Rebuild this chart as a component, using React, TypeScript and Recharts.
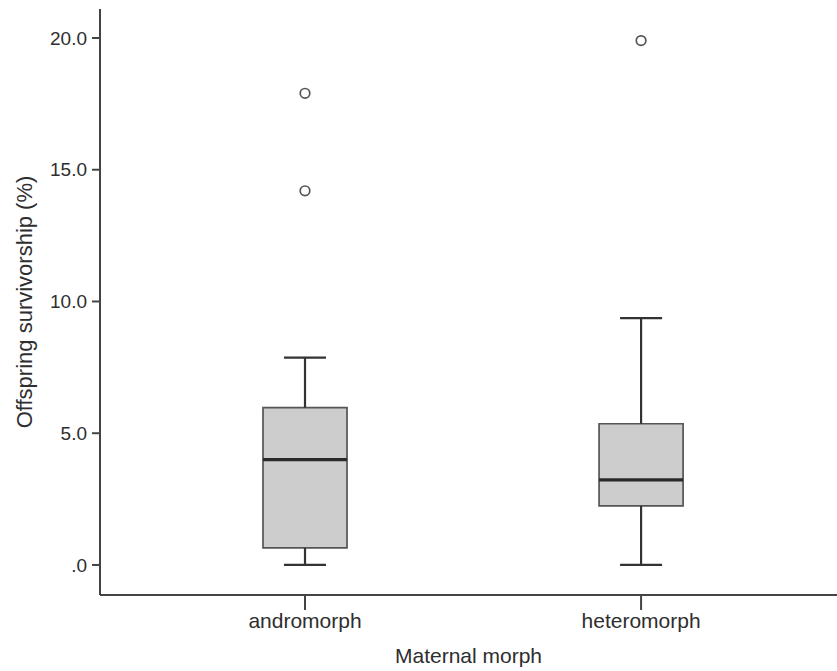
import {
  ComposedChart,
  ReferenceArea,
  ReferenceLine,
  Scatter,
  XAxis,
  YAxis,
} from "recharts";

// categories on a numeric x axis (1, 2)
const morphs = ["andromorph", "heteromorph"];
const morphPos = [1, 2];

// five-number summaries
const whiskerLow = [0, 0];
const quartile1 = [0.65, 2.24];
const medians = [4.0, 3.23];
const quartile3 = [5.97, 5.36];
const whiskerHigh = [7.87, 9.37];

// outliers
const outlierPos = [1, 1, 2];
const outlierVals = [17.9, 14.2, 19.9];

const yTicks = [0, 5, 10, 15, 20];

const BOX_HALF = 0.125;
const CAP_HALF = 0.0625;
const FONT = "'Liberation Sans', Arial, Helvetica, sans-serif";
const TEXT = "#2e2e2e";

const outliers = outlierPos.map((x, i) => ({ x, y: outlierVals[i] }));

function Outlier(props: any) {
  const { cx, cy } = props;
  return <circle cx={cx} cy={cy} r={4.8} fill="#ffffff" stroke="#555555" strokeWidth={1.7} />;
}

export default function App() {
  return (
    <div style={{ position: "absolute", left: 0, top: 0, background: "#fff" }}>
      <ComposedChart
        width={837}
        height={671}
        margin={{ top: 9, right: 0, bottom: 0, left: 0 }}
        style={{ fontFamily: FONT }}
      >
        <XAxis
          type="number"
          dataKey="x"
          domain={[0.39, 2.583]}
          ticks={morphPos}
          tickFormatter={(v) => morphs[morphPos.indexOf(v)] ?? ""}
          height={76}
          tickSize={15}
          tickMargin={3}
          axisLine={{ stroke: "#444444", strokeWidth: 2 }}
          tickLine={{ stroke: "#444444", strokeWidth: 2 }}
          tick={{ fill: TEXT, fontSize: 21, fontFamily: FONT }}
          allowDataOverflow
          label={{
            value: "Maternal morph",
            position: "insideBottom",
            offset: 8,
            fill: TEXT,
            fontSize: 21,
            fontFamily: FONT,
          }}
        />
        <YAxis
          type="number"
          dataKey="y"
          domain={[-1.14, 21.1]}
          ticks={yTicks}
          tickFormatter={(v) => (v === 0 ? ".0" : Number(v).toFixed(1))}
          width={100}
          tickSize={8}
          tickMargin={5}
          axisLine={{ stroke: "#444444", strokeWidth: 2 }}
          tickLine={{ stroke: "#444444", strokeWidth: 2 }}
          tick={{ fill: TEXT, fontSize: 19, fontFamily: FONT }}
          allowDataOverflow
          label={{
            value: "Offspring survivorship (%)",
            angle: -90,
            position: "insideLeft",
            offset: 24,
            fill: TEXT,
            fontSize: 22,
            fontFamily: FONT,
            style: { textAnchor: "middle" },
          }}
        />
        {morphPos.map((x, i) => (
          <ReferenceLine
            key={`wl-${i}`}
            segment={[
              { x, y: whiskerLow[i] },
              { x, y: quartile1[i] },
            ]}
            stroke="#333333"
            strokeWidth={2.2}
          />
        ))}
        {morphPos.map((x, i) => (
          <ReferenceLine
            key={`wh-${i}`}
            segment={[
              { x, y: quartile3[i] },
              { x, y: whiskerHigh[i] },
            ]}
            stroke="#333333"
            strokeWidth={2.2}
          />
        ))}
        {morphPos.map((x, i) => (
          <ReferenceLine
            key={`cl-${i}`}
            segment={[
              { x: x - CAP_HALF, y: whiskerLow[i] },
              { x: x + CAP_HALF, y: whiskerLow[i] },
            ]}
            stroke="#333333"
            strokeWidth={2.2}
          />
        ))}
        {morphPos.map((x, i) => (
          <ReferenceLine
            key={`ch-${i}`}
            segment={[
              { x: x - CAP_HALF, y: whiskerHigh[i] },
              { x: x + CAP_HALF, y: whiskerHigh[i] },
            ]}
            stroke="#333333"
            strokeWidth={2.2}
          />
        ))}
        {morphPos.map((x, i) => (
          <ReferenceArea
            key={`box-${i}`}
            x1={x - BOX_HALF}
            x2={x + BOX_HALF}
            y1={quartile1[i]}
            y2={quartile3[i]}
            fill="#cdcdcd"
            fillOpacity={1}
            stroke="#555555"
            strokeWidth={1.7}
          />
        ))}
        {morphPos.map((x, i) => (
          <ReferenceLine
            key={`med-${i}`}
            segment={[
              { x: x - BOX_HALF, y: medians[i] },
              { x: x + BOX_HALF, y: medians[i] },
            ]}
            stroke="#2a2a2a"
            strokeWidth={3.2}
          />
        ))}
        <Scatter data={outliers} shape={<Outlier />} isAnimationActive={false} />
      </ComposedChart>
    </div>
  );
}
